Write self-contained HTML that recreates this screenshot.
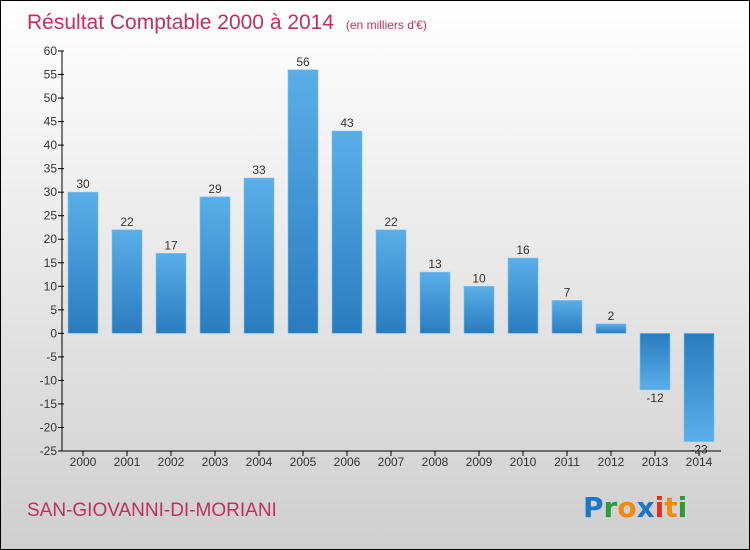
<!DOCTYPE html>
<html><head><meta charset="utf-8"><style>
body{margin:0}
#wrap{position:relative;width:748px;height:548px;border:1px solid #000;background:linear-gradient(#ffffff,#cfcfcf);font-family:"Liberation Sans",sans-serif;overflow:hidden}
</style></head><body>
<div id="wrap">
<svg id="svg" width="748" height="548">
<defs><linearGradient id="bg" x1="0" y1="0" x2="0" y2="1"><stop offset="0" stop-color="#5aaee8"/><stop offset="1" stop-color="#2a7cbf"/></linearGradient>
<linearGradient id="bgn" x1="0" y1="0" x2="0" y2="1"><stop offset="0" stop-color="#2a7cbf"/><stop offset="1" stop-color="#5aaee8"/></linearGradient></defs>
<text x="26" y="28" font-size="21" fill="#c0305e">Résultat Comptable 2000 à 2014 <tspan font-size="12" dx="6">(en milliers d'€)</tspan></text>
<text x="26" y="515" font-size="19" fill="#c0305e">SAN-GIOVANNI-DI-MORIANI</text>
<g font-size="28" font-weight="bold" font-family="DejaVu Sans, sans-serif">
<text x="582" y="516"><tspan fill="#1a78c8">P</tspan><tspan fill="#2a9a3a">r</tspan><tspan fill="#f08a10">o</tspan><tspan fill="#1a78c8">x</tspan><tspan fill="#e03020">i</tspan><tspan fill="#f08a10">t</tspan><tspan fill="#2a9a3a">i</tspan></text></g>
<g id="plot"></g>
</svg></div>
<script>
const categories=["2000","2001","2002","2003","2004","2005","2006","2007","2008","2009","2010","2011","2012","2013","2014"];
const values=[30,22,17,29,33,56,43,22,13,10,16,7,2,-12,-23];
const yTicks=[60,55,50,45,40,35,30,25,20,15,10,5,0,-5,-10,-15,-20,-25];
(function(){
const NS="http://www.w3.org/2000/svg";
const g=document.getElementById('plot');
const yMin=-25,yMax=60,plotTop=50,plotBot=450,plotLeft=61,plotRight=720;
function y(v){return plotBot-(v-yMin)/(yMax-yMin)*(plotBot-plotTop);}
function x(i){return 82+i*44;}
function mk(t,a,txt){const el=document.createElementNS(NS,t);for(const k in a)el.setAttribute(k,a[k]);if(txt!==undefined)el.textContent=txt;g.appendChild(el);return el;}
let e=mk('line',{x1:plotLeft,y1:plotTop,x2:plotLeft,y2:plotBot,stroke:'#000'});


e=mk('line',{x1:plotLeft,y1:plotBot,x2:plotRight,y2:plotBot,stroke:'#000'});


yTicks.forEach(v=>{
 mk('line',{x1:plotLeft-4,y1:y(v),x2:plotLeft+2,y2:y(v),stroke:'#000'});
 const t=mk('text',{x:plotLeft-5,y:y(v)+4,'font-size':12,fill:'#333','text-anchor':'end'},String(v));
 
 
});
categories.forEach((c,i)=>{
 mk('line',{x1:x(i),y1:plotBot,x2:x(i),y2:plotBot+5,stroke:'#000'});
 let t=mk('text',{x:x(i),y:plotBot+15,'font-size':12,fill:'#333','text-anchor':'middle'},c);
 
 
 const v=values[i],y0=y(0),yv=y(v);
 const r=mk('rect',{x:x(i)-15,y:Math.min(y0,yv),width:30,height:Math.abs(yv-y0),fill:v>=0?'url(#bg)':'url(#bgn)',stroke:'#7ec0ee','stroke-width':0.6});
 
 
 t=mk('text',{x:x(i),y:v>=0?yv-4:yv+12,'font-size':12,fill:'#333','text-anchor':'middle'},String(v));
 
 
});
})();
</script>
</body></html>
